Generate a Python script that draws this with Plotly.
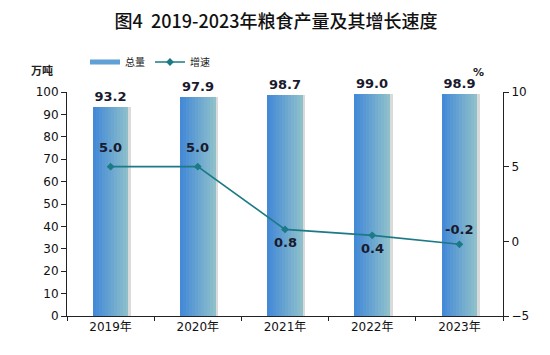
import plotly.graph_objects as go

years = ["2019年", "2020年", "2021年", "2022年", "2023年"]
total = [93.2, 97.9, 98.7, 99.0, 98.9]
growth = [5.0, 5.0, 0.8, 0.4, -0.2]
growth_label_shift = [19, 19, -13, -13, 15]

CJK = "Noto Sans CJK SC"
NUM = "DejaVu Sans, Noto Sans CJK SC"
OFF = 8  # page body margin
W, H = 550 - OFF, 355 - OFF
ML, MT = 67 - OFF, 92 - OFF
MR = W - (503 - OFF)
MB = H - (316 - OFF)

fig = go.Figure()

n = 12
bw = 0.41
left_c = (68, 138, 214)
right_c = (142, 192, 204)
for i in range(n):
    t = i / (n - 1)
    c = tuple(int(left_c[k] + (right_c[k] - left_c[k]) * t) for k in range(3))
    fig.add_trace(go.Bar(
        x=years, y=total, width=bw / n, offset=-bw / 2 + i * bw / n,
        marker=dict(color="rgb(%d,%d,%d)" % c, line=dict(width=0)),
        showlegend=False, hoverinfo="skip"))
fig.add_trace(go.Bar(
    x=years, y=total, width=0.03, offset=bw / 2,
    marker=dict(color="rgba(150,150,150,0.35)", line=dict(width=0)),
    showlegend=False, hoverinfo="skip"))
fig.add_trace(go.Bar(
    x=years, y=total, width=bw, offset=-bw / 2, name="总量",
    marker=dict(color="rgba(0,0,0,0)", line=dict(width=0)),
    text=[f"{v:.1f}" for v in total], textposition="outside",
    textfont=dict(family=NUM, size=13, color="#1a1a2e", weight="bold"),
    cliponaxis=False, showlegend=False))
fig.add_trace(go.Scatter(
    x=[None], y=[None], name="总量", mode="lines",
    line=dict(color="rgb(95,160,215)", width=5), showlegend=True))

fig.add_trace(go.Scatter(
    x=years, y=growth, name="增速", yaxis="y2", mode="lines+markers",
    line=dict(color="#1b7a86", width=1.6),
    marker=dict(symbol="diamond", size=6, color="#1b7a86"),
    cliponaxis=False))

pw = W - ML - MR
ph = H - MT - MB
def px(x):
    return (x - OFF - ML) / pw
def py(y):
    return (H - MB - (y - OFF)) / ph

annotations = [
    dict(text="<b>万吨</b>", x=px(42), y=py(70), xref="paper", yref="paper", showarrow=False,
         xanchor="center", yanchor="middle",
         font=dict(family=CJK, size=11, color="#222")),
    dict(text="<b>%</b>", x=px(478), y=py(72), xref="paper", yref="paper", showarrow=False,
         xanchor="center", yanchor="middle",
         font=dict(family=NUM, size=11, color="#222")),
]
for yr, g, s in zip(years, growth, growth_label_shift):
    annotations.append(dict(
        text=f"{g:.1f}", x=yr, y=g, xref="x", yref="y2", yshift=s, showarrow=False,
        xanchor="center", yanchor="middle",
        font=dict(family=NUM, size=13, color="#1a1a2e", weight="bold")))

fig.update_layout(
    width=W, height=H,
    margin=dict(l=ML, r=MR, t=MT, b=MB, autoexpand=False),
    paper_bgcolor="white", plot_bgcolor="white",
    barmode="overlay", bargap=0,
    font=dict(family=CJK, size=12, color="#111"),
    title=dict(text="图4  2019-2023年粮食产量及其增长速度", x=(276 - OFF) / W, xanchor="center",
               xref="container", yref="container",
               y=1 - (22 - OFF) / H, yanchor="middle",
               font=dict(family=CJK, size=18, color="#111", weight=500)),
    showlegend=True,
    legend=dict(orientation="h", x=px(85), y=py(62), xanchor="left", yanchor="middle",
                font=dict(family=CJK, size=10, color="#222"),
                bgcolor="rgba(0,0,0,0)", tracegroupgap=0, itemwidth=30),
    xaxis=dict(type="category", showline=True, linecolor="#222", linewidth=1,
               ticks="outside", tickson="boundaries", ticklen=4, tickcolor="#222",
               tickfont=dict(family=NUM, size=12, color="#111"),
               showgrid=False),
    yaxis=dict(range=[0, 100], dtick=10, showline=True, linecolor="#222", linewidth=1,
               ticks="outside", ticklen=5, tickcolor="#222", showgrid=False, zeroline=False,
               tickfont=dict(family=NUM, size=12, color="#111")),
    yaxis2=dict(range=[-5, 10], dtick=5, overlaying="y", side="right", showline=True,
                linecolor="#222", linewidth=1, ticks="outside", ticklen=5, tickcolor="#222",
                showgrid=False, zeroline=False,
                tickfont=dict(family=NUM, size=12, color="#111")),
    annotations=annotations,
)

fig.write_html("out.html")
